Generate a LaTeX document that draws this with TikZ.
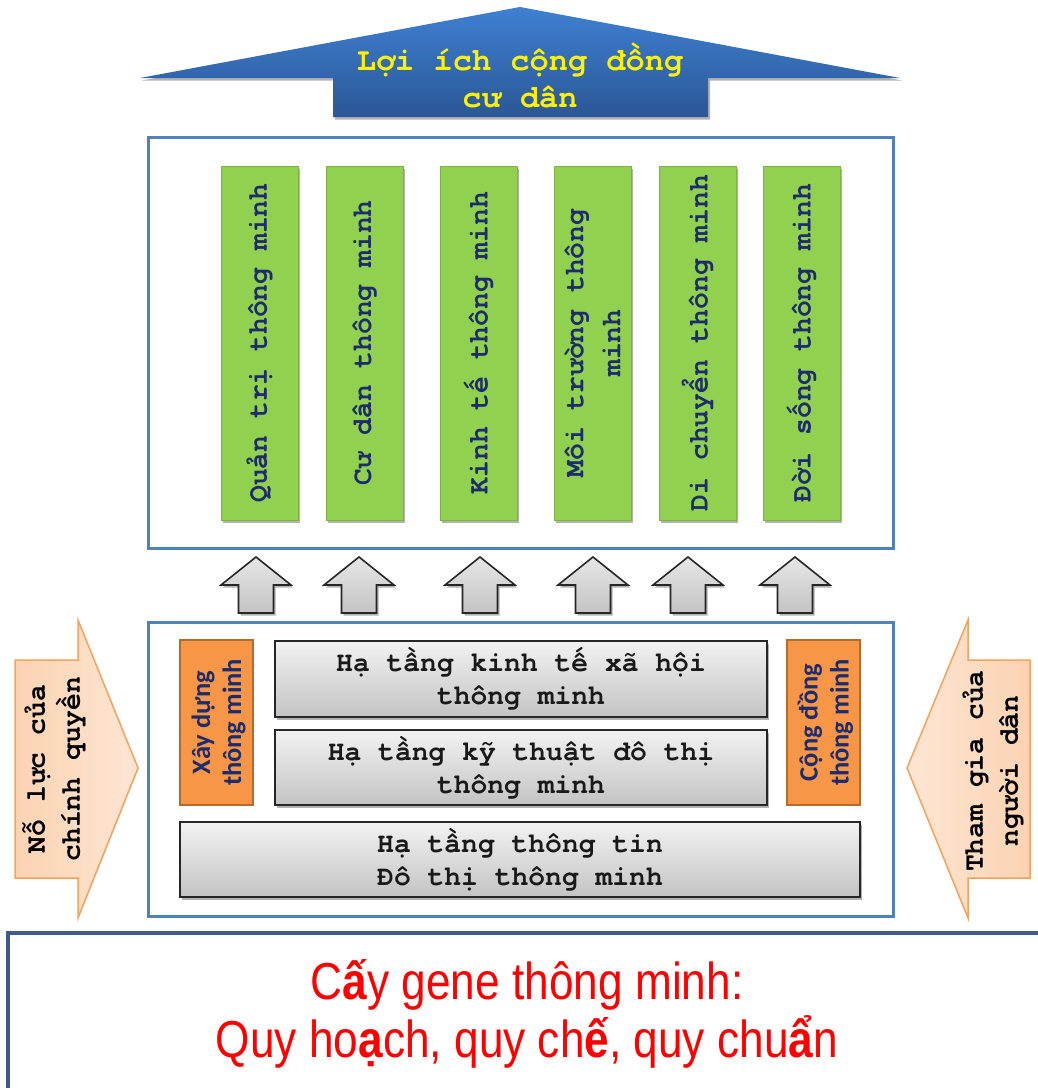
\documentclass[tikz,border=0pt]{standalone}
\usepackage{fontspec}
\setmainfont{Liberation Sans}
\newfontfamily\courbf{TeX Gyre Cursor}
\newfontfamily\calibf[BoldFont={Carlito Bold}]{Carlito}
\newfontfamily\narrowf[FakeStretch=0.85]{Liberation Sans}
\usetikzlibrary{shadows}
\definecolor{bluetop}{HTML}{3F80D2}
\definecolor{bluebot}{HTML}{2A5796}
\definecolor{framebl}{HTML}{4F81BD}
\definecolor{greenf}{HTML}{92D050}
\definecolor{greend}{HTML}{7DB43E}
\definecolor{navy}{HTML}{1C2C6C}
\definecolor{orangef}{HTML}{F79646}
\definecolor{oranged}{HTML}{B8692C}
\definecolor{peachA}{HTML}{FBD3B2}
\definecolor{peachB}{HTML}{FDE6D4}
\definecolor{peachd}{HTML}{F5A25C}
\definecolor{grayt}{HTML}{F2F2F2}
\definecolor{grayb}{HTML}{C3C3C3}
\definecolor{botbl}{HTML}{3E5C88}
\tikzset{
  shad/.style={drop shadow={shadow xshift=2pt,shadow yshift=-2.5pt,opacity=0.3,fill=black}},
  frame/.style={draw=framebl,line width=3pt,fill=white,inner sep=0pt},
  bar/.style={draw=greend,line width=0.8pt,fill=greenf,minimum width=77pt,minimum height=354pt,inner sep=0pt,shad},
  bartext/.style={rotate=90,text=navy,align=center,font=\courbf\bfseries\fontsize{28}{37}\selectfont},
  upar/.style={draw=black!85,line width=1.6pt,top color=grayt!90!gray,bottom color=grayb,line join=miter,shad},
  obox/.style={draw=oranged,line width=2pt,fill=orangef,minimum width=73pt,minimum height=165pt,inner sep=0pt},
  otext/.style={rotate=90,text=navy,align=center,font=\calibf\bfseries\fontsize{26.5}{31}\selectfont},
  gbox/.style={draw=black!85,line width=1.8pt,top color=grayt,bottom color=grayb,inner sep=0pt,shad},
  gtext/.style={align=center,text=black!90,font=\courbf\bfseries\fontsize{28}{33}\selectfont},
  peach/.style={draw=peachd,line width=1.5pt,left color=peachA,right color=peachB},
  ptext/.style={rotate=90,align=center,text=black,font=\courbf\bfseries\fontsize{28}{35}\selectfont},
}
\begin{document}
\begin{tikzpicture}[x=1pt,y=-1pt]
\useasboundingbox (0,0) rectangle (1038,1088);
\clip (0,0) rectangle (1038,1088);
\fill[white] (0,0) rectangle (1038,1088);
% top arrow
\path[top color=bluetop,bottom color=bluebot,shad]
  (520,7) -- (900,78) -- (708,78) -- (708,117) -- (333,117) -- (333,78) -- (140,78) -- cycle;
\node[align=center,text=yellow,font=\courbf\bfseries\fontsize{32}{37}\selectfont] (benefit) at (520,75.5) {Lợi ích cộng đồng\\cư dân};
% upper frame
\node[frame,minimum width=745pt,minimum height=411pt] (upper) at (520.5,342.5) {};
\node[bar] (b1) at (259.5,343) {};
\node[bar] (b2) at (364.5,343) {};
\node[bar] (b3) at (478.5,343) {};
\node[bar] (b4) at (592.5,343) {};
\node[bar] (b5) at (697.5,343) {};
\node[bar] (b6) at (801.5,343) {};
\node[bartext] (t1) at (b1) {Quản trị thông minh};
\node[bartext] (t2) at (b2) {Cư dân thông minh};
\node[bartext] (t3) at (b3) {Kinh tế thông minh};
\node[bartext] (t4) at (b4) {Môi trường thông\\minh};
\node[bartext] (t5) at (b5) {Di chuyển thông minh};
\node[bartext] (t6) at (b6) {Đời sống thông minh};
% up arrows
\foreach \x in {256,359,480,593,688,795}{
  \path[upar] (\x,557) -- (\x+35,585) -- (\x+17.5,585) -- (\x+17.5,613) -- (\x-17.5,613) -- (\x-17.5,585) -- (\x-35,585) -- cycle;
}
% lower frame
\node[frame,minimum width=745pt,minimum height=294pt] (lower) at (520.5,769) {};
\node[obox] (o1) at (216.5,722.5) {};
\node[obox] (o2) at (823.5,722.5) {};
\node[otext] (ot1) at ([xshift=2pt]o1.center) {Xây dựng\\thông minh};
\node[otext] (ot2) at ([xshift=2pt]o2.center) {Cộng đồng\\thông minh};
\node[gbox,minimum width=492pt,minimum height=76pt] (g1) at (521,679) {};
\node[gbox,minimum width=492pt,minimum height=75pt] (g2) at (521,767.5) {};
\node[gbox,minimum width=680pt,minimum height=75pt] (g3) at (520,859.5) {};
\node[gtext] (gt1) at (g1) {Hạ tầng kinh tế xã hội\\thông minh};
\node[gtext] (gt2) at (g2) {Hạ tầng kỹ thuật đô thị\\thông minh};
\node[gtext] (gt3) at (g3) {Hạ tầng thông tin\\Đô thị thông minh};
% side arrows
\path[peach] (15,660) -- (78,660) -- (78,620) -- (138,768) -- (78,918) -- (78,878) -- (15,878) -- cycle;
\node[ptext] (lt) at (54,769) {Nỗ lực của\\chính quyền};
\path[peach,left color=peachB,right color=peachA] (1030,660) -- (968,660) -- (968,620) -- (907,768) -- (968,918) -- (968,878) -- (1030,878) -- cycle;
\node[ptext] (rt) at (993,771) {Tham gia của\\người dân};
% bottom box
\draw[draw=botbl,line width=4pt,fill=white] (8,933) rectangle (1070,1120);
\node[align=center,text=red,font=\narrowf\fontsize{52}{58}\selectfont] (gene) at (527,1014)
  {C\textbf{ấ}y gene thông minh:\\Quy ho\textbf{ạ}ch, quy ch\textbf{ế}, quy chu\textbf{ẩ}n};
\end{tikzpicture}
\end{document}
